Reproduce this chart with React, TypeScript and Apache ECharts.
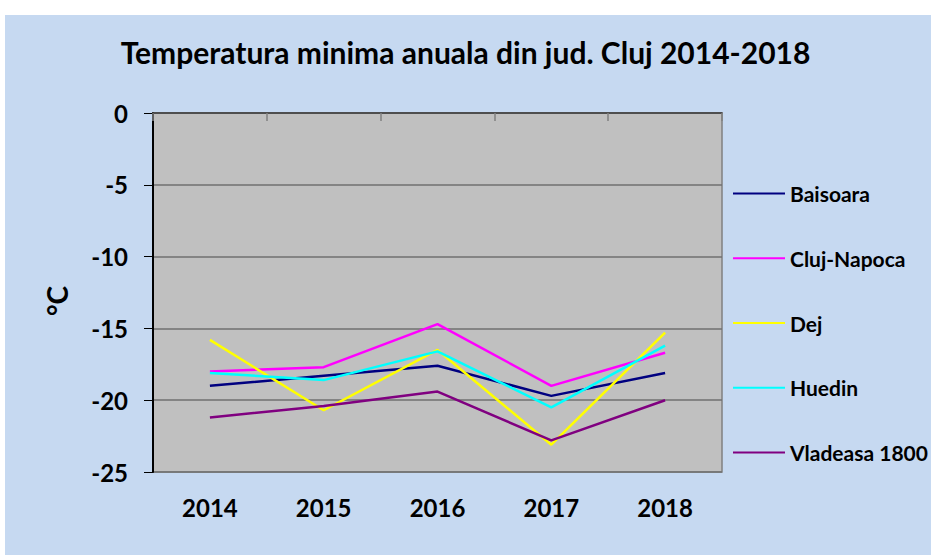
import React, { useEffect, useRef } from "react";
import * as echarts from "echarts";

const years = ["2014", "2015", "2016", "2017", "2018"];
const baisoara = [-19.0, -18.3, -17.6, -19.7, -18.1];
const clujNapoca = [-18.0, -17.7, -14.7, -19.0, -16.7];
const dej = [-15.8, -20.7, -16.5, -23.1, -15.3];
const huedin = [-18.1, -18.6, -16.6, -20.5, -16.2];
const vladeasa = [-21.2, -20.4, -19.4, -22.8, -20.0];

const seriesNames = ["Baisoara", "Cluj-Napoca", "Dej", "Huedin", "Vladeasa 1800"];
const seriesColors = ["#000080", "#FF00FF", "#FFFF00", "#00FFFF", "#800080"];
const seriesData = [baisoara, clujNapoca, dej, huedin, vladeasa];

const FONT = "Lato";

export default function App() {
  const ref = useRef<HTMLDivElement>(null);
  useEffect(() => {
    document.body.style.margin = "0";
    const chart = echarts.init(ref.current!, null, { renderer: "svg" });
    chart.setOption({
      animation: false,
      backgroundColor: "#FFFFFF",
      graphic: [
        {
          type: "rect",
          z: -10,
          silent: true,
          shape: { x: 5, y: 15, width: 926, height: 540 },
          style: { fill: "#C6D9F1" },
        },
      ],
      title: {
        text: "Temperatura minima anuala din jud. Cluj 2014-2018",
        left: "center",
        top: 32,
        textStyle: { fontFamily: FONT, fontWeight: "bold", fontSize: 30, color: "#000" },
      },
      legend: {
        orient: "vertical",
        left: 733,
        top: 182,
        padding: 0,
        icon: "rect",
        itemWidth: 52,
        itemHeight: 2,
        itemGap: 41.75,
        data: seriesNames,
        textStyle: { fontFamily: FONT, fontWeight: "bold", fontSize: 21, lineHeight: 23, color: "#000" },
      },
      grid: {
        left: 153,
        right: 209,
        top: 113,
        bottom: 83,
        show: true,
        backgroundColor: "#C0C0C0",
        borderColor: "#808080",
        borderWidth: 1.5,
      },
      xAxis: [
        {
          type: "category",
          data: years,
          boundaryGap: true,
          position: "bottom",
          axisLine: { show: false },
          axisTick: { show: false },
          axisLabel: { fontFamily: FONT, fontWeight: "bold", fontSize: 24, color: "#000", margin: 23 },
        },
        {
          type: "category",
          data: years,
          boundaryGap: true,
          position: "top",
          axisLine: { show: true, lineStyle: { color: "#404040", width: 1.5 } },
          axisTick: { show: true, inside: true, length: 8, lineStyle: { color: "#808080", width: 1.5 } },
          axisLabel: { show: false },
        },
      ],
      yAxis: {
        type: "value",
        min: -25,
        max: 0,
        interval: 5,
        name: "°C",
        nameLocation: "middle",
        nameRotate: 90,
        nameGap: 82.5,
        nameTextStyle: { fontFamily: FONT, fontWeight: "bold", fontSize: 28, color: "#000", padding: [0, 17, 0, 0] },
        axisLine: { show: true, lineStyle: { color: "#000", width: 2 } },
        axisTick: { show: true, length: 9, lineStyle: { color: "#000" } },
        axisLabel: { fontFamily: FONT, fontWeight: "bold", fontSize: 24, color: "#000", margin: 25 },
        splitLine: { show: true, lineStyle: { color: "#707070", width: 1.5 } },
      },
      series: seriesNames.map((name, i) => ({
        name,
        type: "line",
        xAxisIndex: 0,
        data: seriesData[i],
        symbol: "none",
        color: seriesColors[i],
        lineStyle: { color: seriesColors[i], width: 2.5 },
      })),
    });
    return () => chart.dispose();
  }, []);
  return <div ref={ref} style={{ width: 931, height: 555 }} />;
}
